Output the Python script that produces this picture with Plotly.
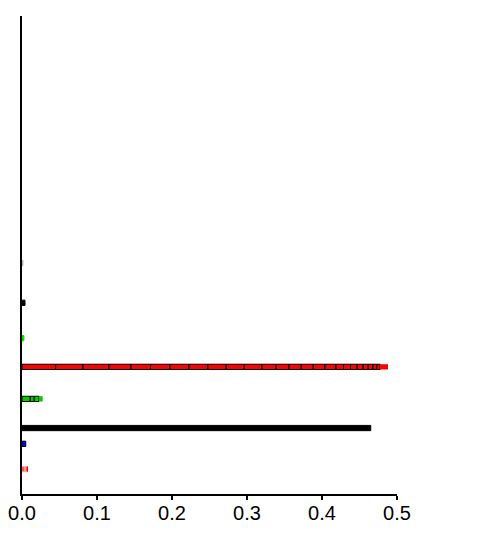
import numpy as np
import plotly.graph_objects as go

# Row positions (numeric y axis, 0..100)
row_names = ["r1", "r2", "r3", "r4", "r5", "r6", "r7", "r8"]
row_y = [5.2, 10.5, 13.8, 19.9, 26.6, 32.6, 40.0, 48.3]
row_colors = ["#ff0000", "#0000ff", "#000000", "#00cc00", "#ff0000", "#00dd00", "#000000", "#c8c8c8"]
row_line_colors = ["#ffb0b0", "#000000", "#000000", "#000000", "#000000", "#00dd00", "#000000", "#b0b0b0"]

# Outlined segments per row (stacked left to right)
seg_r1 = [0.003, 0.002, 0.002]
seg_r2 = [0.005]
seg_r3 = [0.465]
seg_r4 = [0.011, 0.0053, 0.0063]
seg_r5 = [0.0448, 0.0365, 0.0347, 0.0293, 0.0261, 0.0259, 0.0253, 0.0253,
          0.0244, 0.0240, 0.0236, 0.0187, 0.0173, 0.0164, 0.0160, 0.0156,
          0.0147, 0.0101, 0.0093, 0.0089, 0.0080, 0.0067, 0.0063, 0.0053, 0.0044]
seg_r6 = [0.0025]
seg_r7 = [0.004]
seg_r8 = [0.0012]
segments = [seg_r1, seg_r2, seg_r3, seg_r4, seg_r5, seg_r6, seg_r7, seg_r8]

# Un-outlined tail at end of each row
tails = [0.001, 0.0, 0.0, 0.005, 0.0104, 0.0, 0.0, 0.0]

x_ticks = [0.0, 0.1, 0.2, 0.3, 0.4, 0.5]

fig = go.Figure()
for name, y, col, lcol, segs, tail in zip(row_names, row_y, row_colors, row_line_colors, segments, tails):
    segs = np.array(segs)
    bases = np.concatenate([[0.0], np.cumsum(segs)[:-1]])
    fig.add_trace(go.Bar(
        x=segs, base=bases, y=[y] * len(segs), orientation="h",
        width=1.1, marker=dict(color=col, line=dict(color=lcol, width=1)),
        showlegend=False, name=name, hoverinfo="skip"))
    if tail > 0:
        fig.add_trace(go.Bar(
            x=[tail], base=[float(segs.sum())], y=[y], orientation="h",
            width=1.1, marker=dict(color=col, line=dict(width=0)),
            showlegend=False, hoverinfo="skip"))

fig.update_layout(
    barmode="overlay",
    width=480, height=525,
    margin=dict(l=14, r=91, t=8, b=39),
    paper_bgcolor="white", plot_bgcolor="white",
    font=dict(family="Liberation Sans, Arial, sans-serif", size=20, color="black"),
    xaxis=dict(range=[0, 0.5], tickvals=x_ticks, tickformat=".1f",
               showgrid=False, zeroline=False, showline=True, linecolor="black",
               linewidth=1.5, ticks="outside", ticklen=4, tickwidth=1.5,
               tickcolor="black", fixedrange=True, automargin=False,
               ticklabelstandoff=-4),
    yaxis=dict(range=[0, 100], showticklabels=False, ticks="", showgrid=False,
               zeroline=False, showline=True, linecolor="black", linewidth=2,
               fixedrange=True, automargin=False),
)

fig.write_html("out.html")
